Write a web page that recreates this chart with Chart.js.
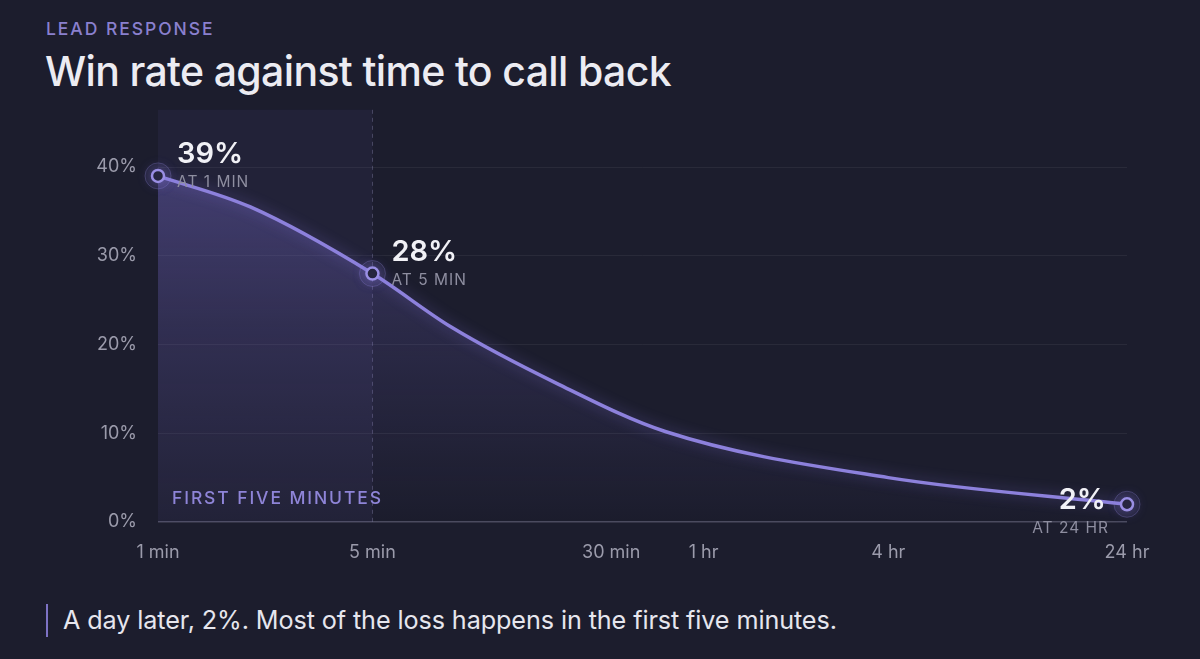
<!DOCTYPE html>
<html lang="en">
<head>
    <meta charset="UTF-8">
    <title>Win rate against time to call back</title>
    <style>
        html, body {
            margin: 0;
            padding: 0;
            background: #1c1d2d;
            width: 1200px;
            height: 659px;
            overflow: hidden;
            font-family: Inter, "Noto Sans", sans-serif;
        }
        .kicker {
            position: absolute;
            left: 46px;
            top: 18px;
            font-size: 17.5px;
            font-weight: 500;
            letter-spacing: 1.95px;
            color: #8a80cf;
        }
        h1 {
            position: absolute;
            left: 45px;
            top: 46px;
            margin: 0;
            font-size: 41px;
            font-weight: 500;
            letter-spacing: -0.65px;
            color: #ececf2;
        }
        #wrap {
            position: absolute;
            left: 0;
            top: 82px;
            width: 1200px;
            height: 498px;
        }
        .caption {
            position: absolute;
            left: 46px;
            top: 604px;
            padding-left: 15px;
            border-left: 2px solid #7d72c4;
            font-size: 25.2px;
            line-height: 33px;
            color: #e6e6ee;
            letter-spacing: -0.1px;
        }
    </style>
</head>
<body>
    <div class="kicker">LEAD RESPONSE</div>
    <h1>Win rate against time to call back</h1>
    <div id="wrap"><canvas id="chart"></canvas></div>
    <div class="caption">A day later, 2%. Most of the loss happens in the first five minutes.</div>

    <script src="https://cdn.jsdelivr.net/npm/chart.js"></script>
    <script>
        // minutes after the lead comes in, and the win rate (%) at that time
        const minutes = [1, 2, 5, 9, 20, 45, 240, 1440];
        const winRate = [39, 35.5, 28, 22, 15.6, 10.2, 5, 2];

        const tickMinutes = [1, 5, 30, 60, 240, 1440];
        const tickLabels = ['1 min', '5 min', '30 min', '1 hr', '4 hr', '24 hr'];
        const yTicks = [0, 10, 20, 30, 40];

        // labelled points: index into the arrays above
        const callouts = [
            { i: 0, big: '39%', small: 'AT 1 MIN', side: 'right' },
            { i: 2, big: '28%', small: 'AT 5 MIN', side: 'right' },
            { i: 7, big: '2%', small: 'AT 24 HR', side: 'left' }
        ];
        const windowEnd = 5; // first five minutes

        const lineColor = '#8d81dc';
        const bg = '#1c1d2d';
        const shown = callouts.map(c => c.i);

        const bandPlugin = {
            id: 'band',
            beforeDatasetsDraw(chart) {
                const { ctx, chartArea, scales } = chart;
                const x0 = scales.x.getPixelForValue(1);
                const x1 = scales.x.getPixelForValue(windowEnd);
                const top = chartArea.top - 4;
                ctx.save();
                ctx.fillStyle = 'rgba(120, 112, 200, 0.075)';
                ctx.fillRect(x0, top, x1 - x0, chartArea.bottom - top);
                ctx.strokeStyle = 'rgba(150, 145, 190, 0.35)';
                ctx.lineWidth = 1;
                ctx.setLineDash([4, 4]);
                ctx.beginPath();
                ctx.moveTo(Math.round(x1) + 0.5, top);
                ctx.lineTo(Math.round(x1) + 0.5, chartArea.bottom);
                ctx.stroke();
                ctx.setLineDash([]);
                ctx.font = '500 17.5px Inter, sans-serif';
                ctx.letterSpacing = '1.9px';
                ctx.fillStyle = '#8f85d8';
                ctx.textBaseline = 'alphabetic';
                ctx.fillText('FIRST FIVE MINUTES', x0 + 14, chartArea.bottom - 18);
                ctx.restore();
            }
        };

        // soft glow on the line only (the filler has already painted by now)
        const glowPlugin = {
            id: 'glow',
            beforeDatasetDraw(chart) {
                const c = chart.ctx;
                c.save();
                c.shadowColor = 'rgba(140, 125, 235, 0.45)';
                c.shadowBlur = 14;
            },
            afterDatasetDraw(chart) {
                chart.ctx.restore();
            }
        };

        const calloutPlugin = {
            id: 'callouts',
            beforeDatasetsDraw(chart) {
                const { ctx, scales } = chart;
                ctx.save();
                callouts.forEach(c => {
                    const x = scales.x.getPixelForValue(minutes[c.i]);
                    const y = scales.y.getPixelForValue(winRate[c.i]);
                    ctx.beginPath();
                    ctx.arc(x, y, 13, 0, Math.PI * 2);
                    ctx.fillStyle = 'rgba(140, 130, 220, 0.08)';
                    ctx.fill();
                    ctx.strokeStyle = 'rgba(150, 140, 220, 0.28)';
                    ctx.lineWidth = 1;
                    ctx.stroke();
                });
                ctx.restore();
            },
            afterDatasetsDraw(chart) {
                const { ctx, scales } = chart;
                ctx.save();
                ctx.textBaseline = 'alphabetic';
                callouts.forEach(c => {
                    const x = scales.x.getPixelForValue(minutes[c.i]);
                    const y = scales.y.getPixelForValue(winRate[c.i]);
                    const right = c.side === 'right';
                    ctx.textAlign = right ? 'left' : 'right';
                    ctx.font = '600 29px Inter, sans-serif';
                    ctx.fillStyle = '#f1f1f6';
                    ctx.letterSpacing = '0px';
                    if (right) {
                        ctx.fillText(c.big, x + 19, y - 13);
                    } else {
                        ctx.fillText(c.big, x - 21, y + 5);
                    }
                    ctx.font = '400 15.5px Inter, sans-serif';
                    ctx.letterSpacing = '1px';
                    ctx.fillStyle = '#8e8ea0';
                    if (right) {
                        ctx.fillText(c.small, x + 19, y + 11);
                    } else {
                        ctx.fillText(c.small, x - 18, y + 29);
                    }
                });
                ctx.restore();
            }
        };

        const ctx = document.getElementById('chart').getContext('2d');
        const chart = new Chart(ctx, {
            type: 'line',
            data: {
                datasets: [{
                    data: minutes.map((m, i) => ({ x: m, y: winRate[i] })),
                    borderColor: lineColor,
                    borderWidth: 3.5,
                    cubicInterpolationMode: 'monotone',
                    fill: 'origin',
                    backgroundColor: (context) => {
                        const area = context.chart.chartArea;
                        if (!area) return 'rgba(0,0,0,0)';
                        const g = context.chart.ctx.createLinearGradient(0, area.top + 50, 0, area.bottom);
                        g.addColorStop(0, 'rgba(125, 112, 215, 0.36)');
                        g.addColorStop(0.45, 'rgba(125, 112, 215, 0.16)');
                        g.addColorStop(1, 'rgba(125, 112, 215, 0.0)');
                        return g;
                    },
                    pointRadius: minutes.map((m, i) => shown.includes(i) ? 6 : 0),
                    pointBackgroundColor: bg,
                    pointBorderColor: '#9a8fe4',
                    pointBorderWidth: 2.5,
                    pointHoverRadius: 0,
                    clip: false
                }]
            },
            options: {
                responsive: true,
                maintainAspectRatio: false,
                animation: false,
                events: [],
                layout: { padding: { left: 0, right: 73, top: 11.45, bottom: 0 } },
                plugins: {
                    legend: { display: false },
                    tooltip: { enabled: false }
                },
                scales: {
                    x: {
                        type: 'logarithmic',
                        min: 1,
                        max: 1440,
                        afterBuildTicks: (scale) => {
                            scale.ticks = tickMinutes.map(v => ({ value: v }));
                        },
                        afterFit: (scale) => { scale.height = 58; },
                        grid: { display: false, drawTicks: false },
                        border: { display: false },
                        ticks: {
                            autoSkip: false,
                            maxRotation: 0,
                            padding: 20,
                            color: '#9b9bab',
                            font: { family: 'Inter', size: 18 },
                            callback: (v) => {
                                const k = tickMinutes.indexOf(v);
                                return k >= 0 ? tickLabels[k] : '';
                            }
                        }
                    },
                    y: {
                        min: 0,
                        max: 46,
                        afterBuildTicks: (scale) => {
                            scale.ticks = yTicks.map(v => ({ value: v }));
                        },
                        afterFit: (scale) => { scale.width = 158; },
                        grid: {
                            drawTicks: false,
                            lineWidth: (c) => c.tick && c.tick.value === 0 ? 1.5 : 1,
                            color: (c) => c.tick && c.tick.value === 0 ? '#4b4b5f' : 'rgba(255,255,255,0.06)'
                        },
                        border: { display: false },
                        ticks: {
                            padding: 21,
                            color: '#9b9bab',
                            font: { family: 'Inter', size: 18 },
                            callback: (v) => v + '%'
                        }
                    }
                }
            },
            plugins: [bandPlugin, glowPlugin, calloutPlugin]
        });
    </script>
</body>
</html>
